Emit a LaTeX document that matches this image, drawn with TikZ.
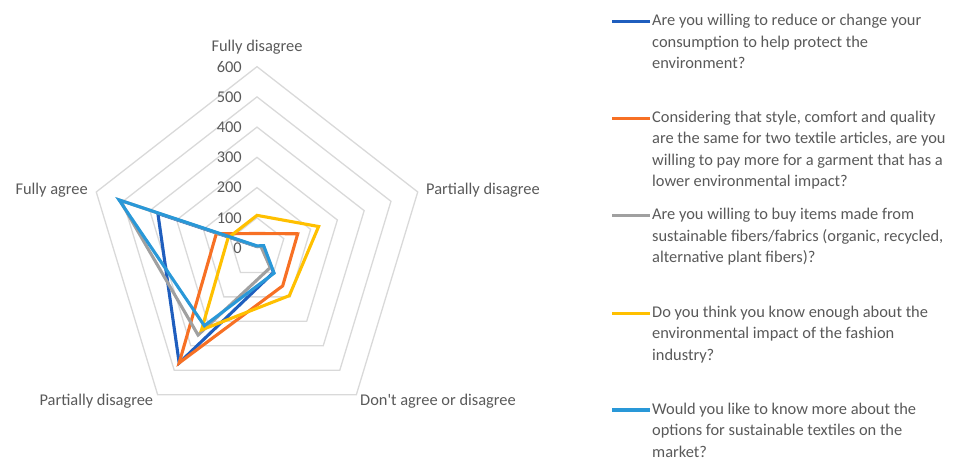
\documentclass[tikz,border=0pt]{standalone}
\usepackage{fontspec}
\setmainfont{Carlito}[Ligatures=TeXOff]
\usetikzlibrary{positioning}
\definecolor{mytext}{RGB}{89,89,89}
\definecolor{mygrid}{RGB}{217,217,217}
\definecolor{myblue}{RGB}{31,94,190}
\definecolor{myorange}{RGB}{247,112,36}
\definecolor{mygray}{RGB}{160,160,160}
\definecolor{myyellow}{RGB}{255,192,0}
\definecolor{mylightblue}{RGB}{41,152,216}

\begin{document}
\begin{tikzpicture}[x=1pt, y=1pt,
        ring/.style={draw=mygrid, line width=1.3pt},
        series/.style={line width=3.1pt, line join=miter},
        axislabel/.style={text=mytext, font=\fontsize{16.4}{20}\selectfont, inner sep=0pt},
        ticklabel/.style={text=mytext, font=\fontsize{16.4}{20}\selectfont, inner sep=0pt, anchor=east},
        legtext/.style={text=mytext, font=\fontsize{16.4}{21.5}\selectfont, align=left, anchor=north west, inner sep=0pt},
        legline/.style={line width=3.1pt}]
    \useasboundingbox (0, 0) rectangle (956, 462);
    \begin{scope}[shift={(257, 214)}, x=0.2817pt, y=0.3022pt]
        % Rings
        \foreach \r in {100, 200, ..., 600}
            \draw[ring] (90:\r) -- (18:\r) -- (-54:\r) -- (234:\r) -- (162:\r) -- cycle;
        \foreach \v in {0, 100, ..., 600}
            \node[ticklabel] (Tick\v) at ([xshift=-15pt]90:\v) {\v};
        % Series
        \draw[series, myblue] (90:5) -- (18:20) -- (-54:100) -- (234:470) -- (162:370) -- cycle;
        \draw[series, myorange] (90:48) -- (18:152) -- (-54:155) -- (234:470) -- (162:152) -- cycle;
        \draw[series, mygray] (90:5) -- (18:15) -- (-54:80) -- (234:356) -- (162:512) -- cycle;
        \draw[series, myyellow] (90:108) -- (18:230) -- (-54:195) -- (234:335) -- (162:108) -- cycle;
        \draw[series, mylightblue] (90:7) -- (18:25) -- (-54:103) -- (234:318) -- (162:515) -- cycle;
    \end{scope}
    \node[axislabel] (LblTop) at (257, 415) {Fully disagree};
    \node[axislabel, anchor=west] (LblRight) at (426, 271.3) {Partially disagree};
    \node[axislabel, anchor=west] (LblBottomRight) at (360, 60.3) {Don't agree or disagree};
    \node[axislabel, anchor=east] (LblBottomLeft) at (153.3, 60.3) {Partially disagree};
    \node[axislabel, anchor=east] (LblLeft) at (88, 271.3) {Fully agree};
    % Legend
    \coordinate (Key1) at (650, 440.3);
    \coordinate (Key2) at (650, 343.7);
    \coordinate (Key3) at (650, 246.5);
    \coordinate (Key4) at (650, 148.7);
    \coordinate (Key5) at (650, 52);
    \draw[legline, myblue] (Key1) -- ++(-38, 0);
    \draw[legline, myorange] (Key2) -- ++(-38, 0);
    \draw[legline, mygray] (Key3) -- ++(-38, 0);
    \draw[legline, myyellow] (Key4) -- ++(-38, 0);
    \draw[legline, mylightblue] (Key5) -- ++(-38, 0);
    \node[legtext] (Legend1) at ([shift={(2, 7.5)}]Key1)
        {Are you willing to reduce or change your\\consumption to help protect the\\environment?};
    \node[legtext] (Legend2) at ([shift={(2, 7.5)}]Key2)
        {Considering that style, comfort and quality\\are the same for two textile articles, are you\\willing to pay more for a garment that has a\\lower environmental impact?};
    \node[legtext] (Legend3) at ([shift={(2, 7.5)}]Key3)
        {Are you willing to buy items made from\\sustainable fibers/fabrics (organic, recycled,\\alternative plant fibers)?};
    \node[legtext] (Legend4) at ([shift={(2, 7.5)}]Key4)
        {Do you think you know enough about the\\environmental impact of the fashion\\industry?};
    \node[legtext] (Legend5) at ([shift={(2, 7.5)}]Key5)
        {Would you like to know more about the\\options for sustainable textiles on the\\market?};
\end{tikzpicture}
\end{document}
